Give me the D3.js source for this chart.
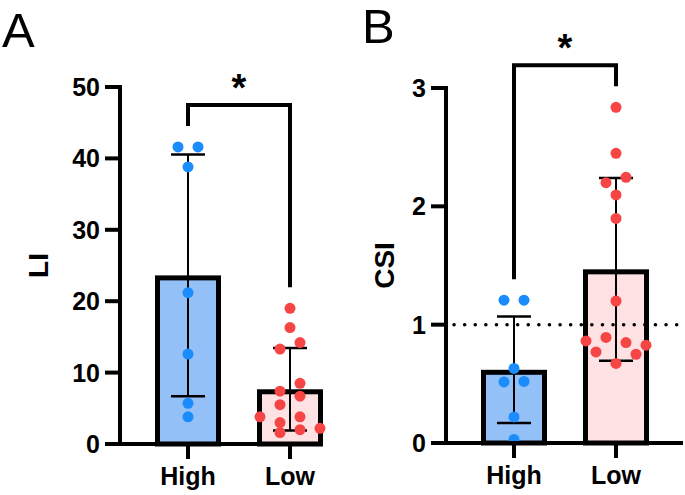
<!DOCTYPE html>
<html>
<head>
<meta charset="utf-8">
<script src="https://cdn.jsdelivr.net/npm/d3@7"></script>
<style>
body { margin: 0; background: #fff; }
text { font-family: "Liberation Sans", Arial, sans-serif; }
</style>
</head>
<body>
<div id="chart"></div>
<script>
// groups on the x axis
var categories = ["High", "Low"];

// panel A: LI, one value per subject
var liHigh = [41.6, 41.6, 38.8, 21.2, 12.6, 5.7, 3.8];
var liLow = [19.0, 16.3, 13.3, 14.2, 7.4, 8.5, 5.5, 6.7, 3.8, 3.0, 3.8, 2.2, 1.6, 2.0];
var liTicks = [0, 10, 20, 30, 40, 50];

// panel B: CSI, one value per subject
var csiHigh = [1.207, 1.207, 0.63, 0.516, 0.52, 0.22, 0.03];
var csiLow = [2.837, 2.448, 2.2, 2.245, 2.096, 1.898, 1.2, 0.863, 0.892, 0.849, 0.827, 0.77, 0.672, 0.75];
var csiTicks = [0, 1, 2, 3];
var csiRef = 1;

var colors = {
    barFill: ["#94c0f8", "#fde1e3"],
    dot: ["#1a8cfb", "#f54545"]
};

var svg = d3.select("#chart")
    .append("svg")
    .attr("width", 685)
    .attr("height", 495);

// GraphPad-like scatter: points in rows, each row centred on the bar
function swarm(values, y, spacing, rowGap) {
    var order = d3.range(values.length).sort(function(a, b) {
        return values[b] - values[a] || a - b;
    });
    var offsets = new Array(values.length);
    var rows = [], row = null;
    order.forEach(function(i) {
        if (!row || y(values[i]) - row.start >= rowGap) {
            row = {start: y(values[i]), idx: []};
            rows.push(row);
        }
        row.idx.push(i);
    });
    rows.forEach(function(r) {
        r.idx.sort(d3.ascending);
        r.idx.forEach(function(i, k) {
            offsets[i] = (k - (r.idx.length - 1) / 2) * spacing;
        });
    });
    return offsets;
}

function drawPanel(cfg, groups, ticks, refLine) {
    var g = svg.append("g");

    var y = d3.scaleLinear()
        .domain([0, d3.max(ticks)])
        .range([cfg.bottom, cfg.top]);

    var x = d3.scalePoint()
        .domain(categories)
        .range([cfg.axisX + 68, cfg.axisX + 170]);

    // panel letter
    g.append("text")
        .attr("x", cfg.letterX)
        .attr("y", cfg.letterY)
        .style("font-size", "49px")
        .text(cfg.letter);

    // y axis title
    g.append("text")
        .attr("transform", "translate(" + cfg.titleX + "," + ((cfg.top + cfg.bottom) / 2) + ") rotate(-90)")
        .attr("text-anchor", "middle")
        .style("font-size", "28px")
        .style("font-weight", "bold")
        .text(cfg.title);

    var stats = groups.map(function(v) {
        return {mean: d3.mean(v), sd: d3.deviation(v)};
    });

    // bars
    g.selectAll(".bar")
        .data(stats)
        .enter()
        .append("rect")
        .attr("x", function(d, i) { return x(categories[i]) - 30.5; })
        .attr("y", function(d) { return y(d.mean) + 2.5; })
        .attr("width", 61)
        .attr("height", function(d) { return y(0) - y(d.mean) - 2.5; })
        .style("fill", function(d, i) { return colors.barFill[i]; })
        .style("stroke", "#000")
        .style("stroke-width", 5);

    // reference line
    if (refLine !== undefined) {
        g.append("line")
            .attr("x1", cfg.axisX + 8)
            .attr("x2", cfg.xEnd)
            .attr("y1", y(refLine))
            .attr("y2", y(refLine))
            .style("stroke", "#000")
            .style("stroke-width", 3.5)
            .style("stroke-linecap", "round")
            .style("stroke-dasharray", "0.1,10.5");
    }

    // error bars, mean +/- SD
    stats.forEach(function(d, i) {
        var cx = x(categories[i]);
        g.append("line")
            .attr("x1", cx).attr("x2", cx)
            .attr("y1", y(d.mean + d.sd)).attr("y2", y(d.mean - d.sd))
            .style("stroke", "#000").style("stroke-width", 2);
        [d.mean + d.sd, d.mean - d.sd].forEach(function(v) {
            g.append("line")
                .attr("x1", cx - 17).attr("x2", cx + 17)
                .attr("y1", y(v)).attr("y2", y(v))
                .style("stroke", "#000").style("stroke-width", 2.5);
        });
    });

    // individual points
    groups.forEach(function(values, i) {
        var offs = swarm(values, y, 20, 12);
        g.selectAll(".dot" + i)
            .data(values)
            .enter()
            .append("circle")
            .attr("cx", function(d, k) { return x(categories[i]) + offs[k]; })
            .attr("cy", function(d) { return y(d); })
            .attr("r", 5.5)
            .style("fill", colors.dot[i]);
    });

    // axes
    g.append("line")
        .attr("x1", cfg.axisX).attr("x2", cfg.axisX)
        .attr("y1", cfg.top - 2).attr("y2", cfg.bottom + 2)
        .style("stroke", "#000").style("stroke-width", 4);
    g.append("line")
        .attr("x1", cfg.axisX - 2).attr("x2", cfg.xEnd)
        .attr("y1", cfg.bottom).attr("y2", cfg.bottom)
        .style("stroke", "#000").style("stroke-width", 4);

    g.selectAll(".ytick")
        .data(ticks)
        .enter()
        .append("line")
        .attr("x1", cfg.axisX - 15).attr("x2", cfg.axisX)
        .attr("y1", function(d) { return y(d); })
        .attr("y2", function(d) { return y(d); })
        .style("stroke", "#000").style("stroke-width", 4);

    g.selectAll(".ylabel")
        .data(ticks)
        .enter()
        .append("text")
        .attr("x", cfg.axisX - 20)
        .attr("y", function(d) { return y(d); })
        .attr("dy", "0.36em")
        .attr("text-anchor", "end")
        .style("font-size", "25px")
        .style("font-weight", "bold")
        .text(function(d) { return d; });

    g.selectAll(".xtick")
        .data(categories)
        .enter()
        .append("line")
        .attr("x1", function(d) { return x(d); })
        .attr("x2", function(d) { return x(d); })
        .attr("y1", cfg.bottom).attr("y2", cfg.bottom + 15)
        .style("stroke", "#000").style("stroke-width", 4);

    g.selectAll(".xlabel")
        .data(categories)
        .enter()
        .append("text")
        .attr("x", function(d) { return x(d); })
        .attr("y", cfg.bottom + 41)
        .attr("text-anchor", "middle")
        .style("font-size", "25px")
        .style("font-weight", "bold")
        .text(function(d) { return d; });

    // significance bracket
    var legs = groups.map(function(v) { return y(d3.max(v)) - 21; });
    var topY = d3.min(legs) - 21;
    var x1 = x(categories[0]), x2 = x(categories[1]);
    g.append("path")
        .attr("d", "M" + x1 + "," + legs[0] + "V" + topY + "H" + x2 + "V" + legs[1])
        .style("fill", "none")
        .style("stroke", "#000")
        .style("stroke-width", 4);
    g.append("text")
        .attr("x", (x1 + x2) / 2)
        .attr("y", topY - 4)
        .attr("text-anchor", "middle")
        .style("font-size", "38px")
        .style("font-weight", "bold")
        .text("*");
}

drawPanel({letter: "A", letterX: 2, letterY: 47, axisX: 120, top: 87, bottom: 444,
           xEnd: 323, title: "LI", titleX: 48},
          [liHigh, liLow], liTicks);

drawPanel({letter: "B", letterX: 362, letterY: 43, axisX: 446, top: 88, bottom: 443,
           xEnd: 683, title: "CSI", titleX: 394},
          [csiHigh, csiLow], csiTicks, csiRef);
</script>
</body>
</html>
